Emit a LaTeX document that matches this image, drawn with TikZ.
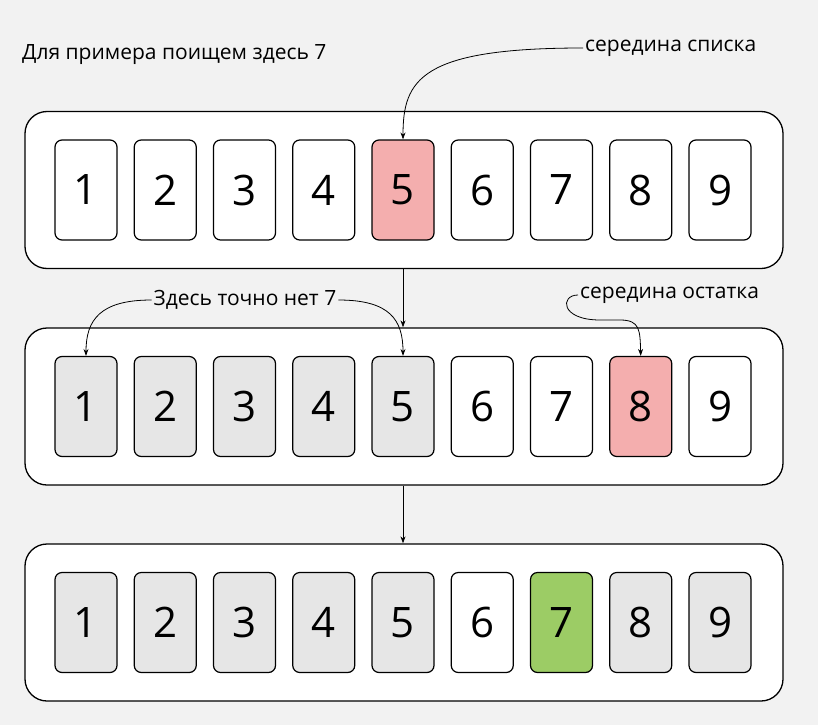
\documentclass[tikz,border=0pt]{standalone}
\usepackage{fontspec}
\setmainfont{Open Sans}
\usetikzlibrary{calc,positioning,arrows.meta}
\definecolor{bgc}{HTML}{F2F2F2}
\definecolor{midc}{HTML}{F4AEAE}
\definecolor{donec}{HTML}{E6E6E6}
\definecolor{foundc}{HTML}{9CCC65}
\tikzstyle{row}=[draw, line width=1.3pt, rounded corners=22pt, fill=white, minimum width=758pt, minimum height=157pt, inner sep=0]
\tikzstyle{cell}=[draw, line width=1.2pt, rounded corners=7pt, fill=white, minimum width=62pt, minimum height=100pt, inner sep=0, font=\fontsize{42}{44}\selectfont]
\tikzstyle{mid}=[cell, fill=midc]
\tikzstyle{done}=[cell, fill=donec]
\tikzstyle{found}=[cell, fill=foundc]
\tikzstyle{lbl}=[inner sep=2pt, font=\fontsize{21}{24}\selectfont]
\tikzstyle{arr}=[-{Stealth[length=7pt,width=5pt]}, line width=0.8pt]

\begin{document}
\begin{tikzpicture}[x=1pt,y=-1pt]
            \fill[bgc] (0,0) rectangle (818,725);
            \node[lbl, anchor=west] (title) at (20,55) {Для примера поищем здесь 7};
            % rows
            \node[row] (r1) at (404,190) {};
            \node[row] (r2) at (404,406.5) {};
            \node[row] (r3) at (404,622.5) {};
            % first row
            \foreach \i/\s in {1/cell,2/cell,3/cell,4/cell,5/mid,6/cell,7/cell,8/cell,9/cell}
                \node[\s] (a\i) at ({86+79.25*(\i-1)},190) {\i};
            % second row
            \foreach \i/\s in {1/done,2/done,3/done,4/done,5/done,6/cell,7/cell,8/mid,9/cell}
                \node[\s] (b\i) at ({86+79.25*(\i-1)},406.5) {\i};
            % third row
            \foreach \i/\s in {1/done,2/done,3/done,4/done,5/done,6/cell,7/found,8/done,9/done}
                \node[\s] (c\i) at ({86+79.25*(\i-1)},622.5) {\i};
            % labels
            \node[lbl, anchor=west] (mid1) at (583,48) {середина списка};
            \node[lbl] (none) at (245,300) {Здесь точно нет 7};
            \node[lbl, anchor=west] (mid2) at (578,295) {середина остатка};
            % arrows
            \draw[arr] (mid1.west) .. controls (420,48) and (403,80) .. (a5.north);
            \draw[arr] (r1.south -| a5) -- (r2.north -| a5);
            \draw[arr] (r2.south -| b5) -- (r3.north -| b5);
            \draw[arr] (none.west) .. controls (100,300) and (86,320) .. (b1.north);
            \draw[arr] (none.east) .. controls (390,300) and (403,320) .. (b5.north);
            \draw[arr] (mid2.west) .. controls (560,295) and (560,320) .. (600,320) -- (620,320) .. controls (640,320) and (640,330) .. (b8.north);
\end{tikzpicture}
\end{document}
